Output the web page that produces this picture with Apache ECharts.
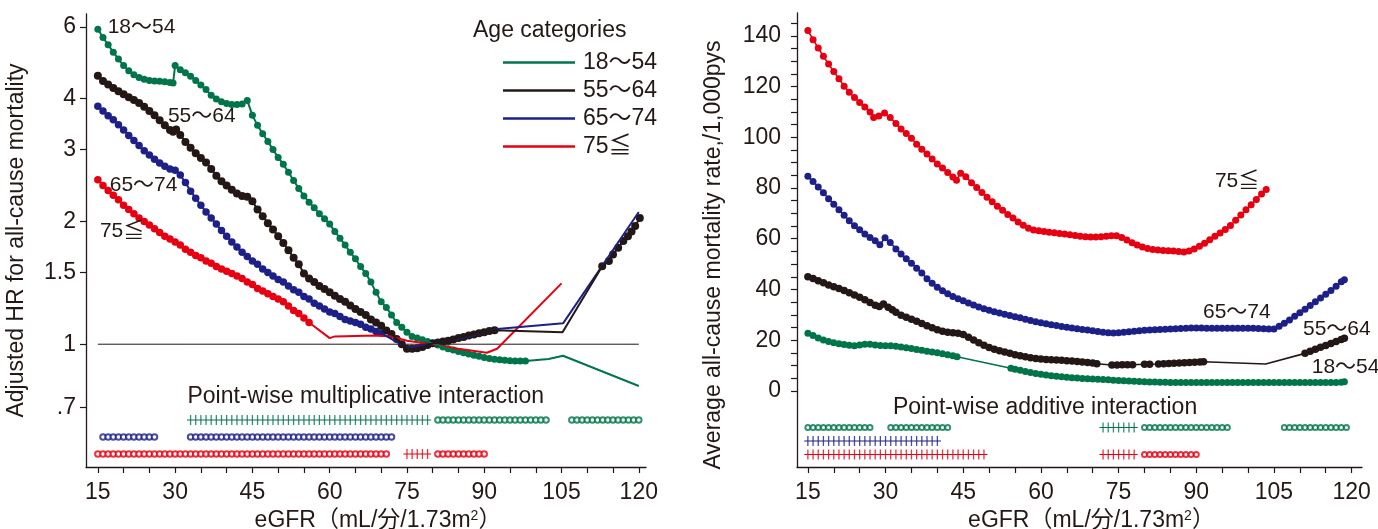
<!DOCTYPE html>
<html><head><meta charset="utf-8">
<script src="https://cdn.jsdelivr.net/npm/echarts@6/dist/echarts.min.js"></script>
<style>html,body{margin:0;padding:0;background:#fff}#c{width:1378px;height:529px}</style>
</head><body><div id="c"></div>
<script>
// ---------------- DATA ----------------
const ageGroups = ['18～54', '55～64', '65～74', '75≦'];
const xTickLabels = [15, 30, 45, 60, 75, 90, 105, 120];
const hrTickLabels = [0.7, 1, 1.5, 2, 3, 4, 6];
const rateTickLabels = [0, 20, 40, 60, 80, 100, 120, 140];

// Left panel: adjusted HR (eGFR, HR)
const hrGreen = [[15,5.92],[16,5.65],[17,5.42],[18,5.2],[19,5.0],[20,4.82],[21,4.68],[22,4.58],[23,4.51],[24,4.46],[25,4.43],[26,4.42],[27,4.41],[28,4.4],[29,4.38],[29.6,4.37],[30,4.82],[31,4.71],[32,4.63],[33,4.54],[34,4.43],[35,4.32],[36,4.21],[37,4.08],[38,3.99],[39,3.93],[40,3.89],[41,3.87],[42,3.87],[43,3.88],[44,3.96],[45,3.64],[46,3.44],[47,3.28],[48,3.14],[49,3.0],[50,2.87],[51,2.76],[52,2.64],[53,2.52],[54,2.41],[55,2.31],[56,2.23],[57,2.16],[58,2.09],[59,2.03],[60,1.97],[61,1.89],[62,1.82],[63,1.75],[64,1.68],[65,1.62],[66,1.55],[67,1.49],[68,1.42],[69,1.34],[70,1.27],[71,1.23],[72,1.18],[73,1.13],[74,1.1],[75,1.07],[76,1.045],[77,1.035],[78,1.025],[79,1.015],[80,1.005],[81,0.995],[82,0.985],[83,0.975],[84,0.968],[85,0.96],[86,0.953],[87,0.946],[88,0.94],[89,0.934],[90,0.928],[91,0.923],[92,0.919],[93,0.916],[94,0.913],[95,0.911],[96,0.91],[97,0.909],[98,0.909],[102.5,0.92],[105.3,0.937],[120,0.79]];
const hrGreenDots = [[15,98]];
const hrBlack = [[15,4.55],[16,4.42],[17,4.33],[18,4.25],[19,4.17],[20,4.1],[21,4.03],[22,3.97],[23,3.9],[24,3.82],[25,3.73],[26,3.64],[27,3.54],[28,3.44],[29,3.35],[29.6,3.32],[30.2,3.36],[31,3.26],[32,3.13],[33,3.03],[34,2.94],[35,2.86],[36,2.79],[37,2.69],[38,2.59],[39,2.51],[40,2.45],[41,2.39],[42,2.34],[43,2.31],[44,2.3],[45,2.24],[46,2.14],[47,2.06],[48,1.98],[49,1.91],[50,1.84],[51,1.77],[52,1.7],[53,1.63],[54,1.57],[55,1.49],[56,1.45],[57,1.42],[58,1.39],[59,1.365],[60,1.34],[61,1.315],[62,1.29],[63,1.27],[64,1.245],[65,1.22],[66,1.2],[67,1.18],[68,1.15],[69,1.13],[70,1.11],[71,1.08],[72,1.06],[73,1.03],[74,1.0],[75,0.975],[76,0.975],[77,0.978],[78,0.985],[79,0.995],[80,1.005],[81,1.01],[82,1.015],[83,1.02],[84,1.027],[85,1.035],[86,1.042],[87,1.05],[88,1.057],[89,1.064],[90,1.07],[91,1.077],[92,1.082],[105.2,1.07],[112.9,1.553],[114.2,1.6],[115,1.66],[116,1.725],[117,1.79],[117.9,1.84],[118.6,1.89],[119.3,1.95],[120.2,2.04]];
const hrBlackDots = [[15,92],[112.9,120.2]];
const hrBlue = [[15,3.83],[16,3.73],[17,3.63],[18,3.55],[19,3.45],[20,3.35],[21,3.25],[22,3.16],[23,3.07],[24,2.98],[25,2.91],[26,2.84],[27,2.78],[28,2.73],[29,2.69],[30,2.67],[31,2.6],[32,2.49],[33,2.37],[34,2.28],[35,2.19],[36,2.11],[37,2.04],[38,1.97],[39,1.9],[40,1.84],[41,1.78],[42,1.73],[43,1.68],[44,1.64],[45,1.6],[46,1.57],[47,1.53],[48,1.5],[49,1.47],[50,1.44],[51,1.42],[52,1.39],[53,1.36],[54,1.34],[55,1.31],[56,1.29],[57,1.26],[58,1.24],[59,1.22],[60,1.2],[61,1.19],[62,1.17],[63,1.15],[64,1.14],[65,1.13],[66,1.12],[67,1.1],[68,1.09],[69,1.075],[70,1.065],[75,0.98],[80,1.005],[85,1.03],[92.5,1.09],[105.3,1.125],[120,2.11]];
const hrBlueDots = [[15,70]];
const hrRed = [[15,2.53],[16,2.45],[17,2.38],[18,2.32],[19,2.26],[20,2.19],[21,2.14],[22,2.09],[23,2.04],[24,2.0],[25,1.96],[26,1.92],[27,1.88],[28,1.84],[29,1.81],[30,1.78],[31,1.75],[32,1.71],[33,1.68],[34,1.65],[35,1.63],[36,1.6],[37,1.58],[38,1.55],[39,1.53],[40,1.51],[41,1.49],[42,1.47],[43,1.45],[44,1.42],[45,1.4],[46,1.37],[47,1.35],[48,1.33],[49,1.31],[50,1.29],[51,1.27],[52,1.24],[53,1.21],[54,1.19],[55,1.16],[56,1.13],[60,1.035],[61,1.045],[69,1.05],[72,1.045],[75,1.02],[80,1.0],[85,0.975],[90.5,0.953],[92.5,0.975],[105,1.41]];
const hrRedDots = [[15,56]];
const hrReference = [[15,1],[120,1]];

// Left panel: point-wise multiplicative interaction (eGFR positions)
const multGreenPlus = [[33,34,35,36,37,38,39,40,41,42,43,44,45,46,47,48,49,50,51,52,53,54,55,56,57,58,59,60,61,62,63,64,65,66,67,68,69,70,71,72,73,74,75,76,77,78,79]];
const multGreenO = [81,82,83,84,85,86,87,88,89,90,91,92,93,94,95,96,97,98,99,100,101,102,107,108,109,110,111,112,113,114,115,116,117,118,119,120];
const multBlueO = [16,17,18,19,20,21,22,23,24,25,26,33,34,35,36,37,38,39,40,41,42,43,44,45,46,47,48,49,50,51,52,53,54,55,56,57,58,59,60,61,62,63,64,65,66,67,68,69,70,71,72];
const multRedO = [15,16,17,18,19,20,21,22,23,24,25,26,27,28,29,30,31,32,33,34,35,36,37,38,39,40,41,42,43,44,45,46,47,48,49,50,51,52,53,54,55,56,57,58,59,60,61,62,63,64,65,66,67,68,69,70,71,81,82,83,84,85,86,87,88,89,90];
const multRedPlus = [[75,76,77,78,79]];

// Right panel: average all-cause mortality rate /1,000 person-years
const rateGreen = [[15,22.7],[16,21.8],[17,20.9],[18,20.1],[19,19.5],[20,19.0],[21,18.6],[22,18.3],[23,18.0],[24,17.8],[25,18.1],[26,18.4],[27,18.4],[28,18.1],[29,17.9],[30,17.8],[31,17.8],[32,17.6],[33,17.3],[34,17.0],[35,16.7],[36,16.3],[37,16.0],[38,15.6],[39,15.3],[40,15.0],[41,14.7],[42,14.3],[43,13.9],[43.8,13.5],[54.2,8.9],[55,8.5],[56,8.1],[57,7.7],[58,7.3],[59,6.9],[60,6.6],[61,6.3],[62,6.0],[63,5.8],[64,5.6],[65,5.4],[66,5.2],[67,5.1],[68,4.9],[69,4.8],[70,4.7],[71,4.6],[72,4.5],[73,4.4],[74,4.2],[75,4.1],[76,4.0],[77,3.9],[78,3.8],[79,3.7],[80,3.6],[81,3.5],[82,3.5],[83,3.4],[84,3.4],[85,3.35],[86,3.3],[87,3.3],[88,3.3],[89,3.3],[90,3.3],[91,3.3],[92,3.3],[93,3.3],[94,3.3],[95,3.3],[96,3.3],[97,3.3],[98,3.3],[99,3.3],[100,3.3],[101,3.3],[102,3.3],[103,3.3],[104,3.3],[105,3.3],[106,3.3],[107,3.3],[108,3.3],[109,3.3],[110,3.3],[111,3.3],[112,3.3],[113,3.3],[114,3.3],[115,3.3],[116,3.3],[117,3.35],[118,3.45],[118.6,3.6]];
const rateGreenDots = [[15,43.8],[54.2,118.6]];
const rateBlack = [[15,45.0],[16,44.3],[17,43.4],[18,42.6],[19,41.8],[20,41.1],[21,40.4],[22,39.6],[23,38.7],[24,37.8],[25,36.9],[26,35.9],[27,34.9],[28,33.8],[28.8,33.3],[29.6,34.3],[30.5,33.0],[31.3,32.0],[32,31.0],[33,29.8],[34,29.0],[35,28.3],[36,27.5],[37,26.6],[38,25.7],[39,24.9],[40,24.1],[41,23.5],[42,23.1],[43,22.9],[44,22.7],[45,22.2],[46,21.2],[47,20.1],[48,19.0],[49,18.0],[50,17.1],[51,16.4],[52,15.8],[53,15.3],[54,14.8],[55,14.3],[56,13.9],[57,13.5],[58,13.1],[59,12.8],[60,12.6],[61,12.4],[62,12.3],[63,12.2],[64,12.1],[65,11.9],[66,11.8],[67,11.6],[68,11.4],[69,11.2],[70,11.0],[70.8,10.7],[73.7,10.2],[74.7,10.2],[75.7,10.3],[76.7,10.3],[77.7,10.3],[80,10.5],[81,10.5],[82.7,10.6],[83.7,10.7],[84.7,10.8],[85.7,10.9],[86.7,11.0],[87.7,11.1],[88.7,11.2],[89.7,11.3],[90.7,11.4],[91.4,11.5],[103.4,10.6],[111,14.8],[112,15.6],[113,16.4],[114,17.2],[115,17.9],[116,18.7],[117,19.5],[118,20.3],[118.6,20.8]];
const rateBlackDots = [[15,70.8],[73.7,77.7],[80,81],[82.7,91.4],[111,118.6]];
const rateBlue = [[15,84.6],[16,82.6],[17,80.4],[18,78.1],[19,75.8],[20,73.6],[21,71.4],[22,69.3],[23,67.1],[24,65.1],[25,63.5],[26,61.9],[27,60.5],[28,59.2],[28.9,57.6],[29.9,60.4],[30.9,58.5],[32,56.0],[33,54.0],[34,52.1],[35,50.3],[36,48.4],[37,46.5],[38,44.2],[39,42.4],[40,40.9],[41,39.5],[42,38.3],[43,37.2],[44,36.3],[45,35.5],[46,34.7],[47,33.9],[48,33.1],[49,32.4],[50,31.8],[51,31.2],[52,30.7],[53,30.2],[54,29.7],[55,29.2],[56,28.8],[57,28.3],[58,27.8],[59,27.3],[60,26.9],[61,26.5],[62,26.1],[63,25.8],[64,25.4],[65,25.1],[66,24.8],[67,24.5],[68,24.2],[69,24.0],[70,23.7],[71,23.4],[72,23.1],[73,22.9],[74,22.8],[75,22.9],[76,23.1],[77,23.3],[78,23.5],[79,23.7],[80,23.9],[81,24.0],[82,24.1],[83,24.2],[84,24.3],[85,24.4],[86,24.5],[87,24.6],[88,24.7],[89,24.8],[90,24.8],[91,24.8],[92,24.7],[93,24.7],[94,24.7],[95,24.7],[96,24.7],[97,24.7],[98,24.7],[99,24.7],[100,24.7],[101,24.7],[102,24.6],[103,24.5],[104,24.4],[105,24.4],[106,25.5],[107,26.7],[108,28.0],[109,29.4],[110,30.8],[111,32.2],[112,33.7],[113,35.2],[114,36.6],[115,38.1],[116,39.6],[117,41.3],[118,43.0],[118.6,43.8]];
const rateBlueDots = [[15,118.6]];
const rateRed = [[15,142.1],[16,138.5],[17,135.2],[18,131.9],[19,128.9],[20,125.9],[21,123.1],[22,120.1],[23,117.8],[24,115.7],[25,113.7],[26,111.9],[27,110.0],[27.7,107.8],[28.7,108.4],[29.8,109.6],[30.9,107.8],[32,105.4],[33,103.3],[34,101.5],[35,99.6],[36,97.3],[37,95.3],[38,93.4],[39,91.4],[40,89.5],[41,87.9],[42,86.1],[43,84.3],[43.7,83.1],[44.5,85.8],[45.5,84.4],[46.6,82.1],[47.6,80.2],[48.6,78.2],[49.6,76.4],[50.6,74.6],[51.6,72.8],[52.6,71.2],[53.6,69.6],[54.6,68.2],[55.6,66.6],[56.6,65.3],[57.6,64.1],[58.6,63.4],[59.6,63.1],[60.6,62.9],[61.6,62.6],[62.6,62.4],[63.6,62.1],[64.6,61.9],[65.6,61.6],[66.6,61.3],[67.6,61.0],[68.6,60.8],[69.6,60.7],[70.6,60.7],[71.6,60.8],[72.6,61.0],[73.6,61.2],[74.6,61.2],[75.6,60.5],[76.6,59.5],[77.6,58.4],[78.6,57.5],[79.6,56.7],[80.6,56.1],[81.6,55.8],[82.6,55.6],[83.6,55.4],[84.6,55.3],[85.6,55.2],[86.6,55.0],[87.6,54.8],[88.6,55.2],[89.6,56.0],[90.6,57.0],[91.6,58.2],[92.6,59.6],[93.6,61.0],[94.6,62.3],[95.6,63.6],[96.6,65.2],[97.6,67.3],[98.6,69.4],[99.6,71.4],[100.6,73.4],[101.6,75.5],[102.6,77.6],[103.5,79.4]];
const rateRedDots = [[15,103.5]];

// Right panel: point-wise additive interaction (eGFR positions)
const addGreenO = [15,16,17,18,19,20,21,22,23,24,25,26,27,31,32,33,34,35,36,37,38,39,40,41,42,80,81,82,83,84,85,86,87,88,89,90,91,92,93,94,95,96,107,108,109,110,111,112,113,114,115,116,117,118,119];
const addGreenPlus = [[72,73,74,75,76,77,78]];
const addBluePlus = [[15,16,17,18,19,20,21,22,23,24,25,26,27,28,29,30,31,32,33,34,35,36,37,38,39,40]];
const addRedPlus = [[15,16,17,18,19,20,21,22,23,24,25,26,27,28,29,30,31,32,33,34,35,36,37,38,39,40,41,42,43,44,45,46,47,48,49],[72,73,74,75,76,77,78]];
const addRedO = [80,81,82,83,84,85,86,87,88,89,90];

// ---------------- STYLE ----------------
const TXT = '#231815';
const FONT = '"Liberation Sans", Arial, "Noto Sans CJK JP", sans-serif';
const C = { green: '#00754a', black: '#231815', blue: '#1d2088', red: '#e60012' };
const ROW = { green: 3, blue: 2, red: 1 };

function curve(pts, ranges, color, name, xi, yi, size, lw) {
  return [
    { type: 'line', name: name, xAxisIndex: xi, yAxisIndex: yi, data: pts, symbol: 'none',
      lineStyle: { color: color, width: lw }, itemStyle: { color: color }, silent: true, animation: false },
    { type: 'scatter', name: name + ' •', xAxisIndex: xi, yAxisIndex: yi,
      data: pts.filter(p => ranges.some(r => p[0] >= r[0] - 1e-9 && p[0] <= r[1] + 1e-9)),
      symbol: 'circle', symbolSize: size, itemStyle: { color: color, opacity: 1 }, silent: true, animation: false }
  ];
}
function oRow(xs, row, color, xi, yi, size) {
  return { type: 'scatter', xAxisIndex: xi, yAxisIndex: yi, data: xs.map(x => [x, row]),
    symbol: 'emptyCircle', symbolSize: size, itemStyle: { color: color, borderWidth: 1 },
    silent: true, animation: false };
}
function plusRuns(runs, row, color, xi, yi) {
  const out = [];
  runs.forEach(xs => {
    out.push({ type: 'line', xAxisIndex: xi, yAxisIndex: yi,
      data: [[xs[0] - 0.7, row], [xs[xs.length - 1] + 0.7, row]], symbol: 'none',
      lineStyle: { color: color, width: 1.2 }, silent: true, animation: false });
    out.push({ type: 'scatter', xAxisIndex: xi, yAxisIndex: yi, data: xs.map(x => [x, row]),
      symbol: 'rect', symbolSize: [1.3, 10], itemStyle: { color: color }, silent: true, animation: false });
  });
  return out;
}
function note(text, coord, align, size) {
  return { coord: coord, value: text, symbol: 'circle', symbolSize: 0,
    label: { show: true, formatter: text, position: 'inside', align: align, verticalAlign: 'middle',
      color: TXT, fontSize: size, fontFamily: FONT } };
}
function range(a, b, s) { const r = []; for (let v = a; v <= b + 1e-9; v += s) r.push(v); return r; }

const axisLineStyle = { show: true, onZero: false, lineStyle: { color: TXT, width: 1.3 } };
const tickStyle = { lineStyle: { color: TXT, width: 1.2 } };
const xName = '{a|eGFR（mL/分/1.73m}{s|2}{a|）}';
const xNameStyle = { padding: [0, 0, 0, 24], rich: { a: { fontSize: 23, color: TXT, fontFamily: FONT }, s: { fontSize: 14, color: TXT, fontFamily: FONT, verticalAlign: 'top', padding: [0, 0, 9, 0] } } };

function xAxis(gi, min, max) {
  return { gridIndex: gi, type: 'value', min: min, max: max, axisLine: axisLineStyle,
    axisTick: Object.assign({ show: true, length: 6, customValues: range(15, 120, 5) }, tickStyle),
    axisLabel: { customValues: xTickLabels, fontSize: 23, color: TXT, fontFamily: FONT, margin: 14 },
    splitLine: { show: false }, name: xName, nameLocation: 'middle', nameGap: 38, nameTextStyle: xNameStyle };
}

const series = [];
// left panel
series.push({ type: 'line', name: 'ref', xAxisIndex: 0, yAxisIndex: 0, data: hrReference, symbol: 'none',
  lineStyle: { color: TXT, width: 1 }, silent: true, animation: false,
  markPoint: { silent: true, animation: false, data: [
    note('18～54', [16.9, 6.0], 'left', 21), note('55～64', [28.6, 3.63], 'left', 21),
    note('65～74', [17.3, 2.46], 'left', 21), note('75≦', [15.4, 1.89], 'left', 21)] } });
series.push(...curve(hrRed, hrRedDots, C.red, ageGroups[3], 0, 0, 7.5, 2));
series.push(...curve(hrBlue, hrBlueDots, C.blue, ageGroups[2], 0, 0, 7.5, 2));
series.push(...curve(hrGreen, hrGreenDots, C.green, ageGroups[0], 0, 0, 7, 2));
series.push(...curve(hrBlack, hrBlackDots, C.black, ageGroups[1], 0, 0, 8, 2));
series.push(...plusRuns(multGreenPlus, ROW.green, C.green, 0, 1));
const multTitle = oRow(multGreenO, ROW.green, C.green, 0, 1, 5.5);
multTitle.markPoint = { silent: true, animation: false, data: [note('Point-wise multiplicative interaction', [67, 4.35], 'center', 23)] };
series.push(multTitle);
series.push(oRow(multBlueO, ROW.blue, C.blue, 0, 1, 5.5));
series.push(oRow(multRedO, ROW.red, C.red, 0, 1, 5.5));
series.push(...plusRuns(multRedPlus, ROW.red, C.red, 0, 1));
// right panel
const rg = curve(rateGreen, rateGreenDots, C.green, 'R ' + ageGroups[0], 1, 2, 7, 1.6);
const rk = curve(rateBlack, rateBlackDots, C.black, 'R ' + ageGroups[1], 1, 2, 7.5, 1.6);
const rb = curve(rateBlue, rateBlueDots, C.blue, 'R ' + ageGroups[2], 1, 2, 7, 1.6);
const rr = curve(rateRed, rateRedDots, C.red, 'R ' + ageGroups[3], 1, 2, 7, 1.6);
rr[0].markPoint = { silent: true, animation: false, data: [
  note('75≦', [93.6, 82.7], 'left', 21), note('65～74', [91.3, 31.1], 'left', 21),
  note('55～64', [110.6, 24.4], 'left', 21), note('18～54', [112.3, 9.4], 'left', 21)] };
series.push(...rr, ...rb, ...rg, ...rk);
const addTitle = oRow(addGreenO, ROW.green, C.green, 1, 3, 5);
addTitle.markPoint = { silent: true, animation: false, data: [note('Point-wise additive interaction', [60.8, 4.44], 'center', 23)] };
series.push(addTitle);
series.push(...plusRuns(addGreenPlus, ROW.green, C.green, 1, 3));
series.push(...plusRuns(addBluePlus, ROW.blue, C.blue, 1, 3));
series.push(...plusRuns(addRedPlus, ROW.red, C.red, 1, 3));
series.push(oRow(addRedO, ROW.red, C.red, 1, 3, 5));

const option = {
  backgroundColor: '#fff',
  animation: false,
  textStyle: { fontFamily: FONT, color: TXT },
  title: { text: 'Age categories', left: 473, top: 19, padding: 0,
    textStyle: { fontSize: 23, fontWeight: 'normal', color: TXT, fontFamily: FONT } },
  legend: { orient: 'vertical', left: 503, top: 51, padding: 0, itemWidth: 72, itemHeight: 2.5, itemGap: 5,
    icon: 'rect', selectedMode: false, data: ageGroups,
    textStyle: { fontSize: 23, lineHeight: 22, color: TXT, fontFamily: FONT, padding: [0, 0, 0, 3] } },
  grid: [
    { left: 86, right: 732, top: 14, bottom: 62, containLabel: false, outerBoundsMode: 'none' },
    { left: 797, right: 16, top: 13, bottom: 62, containLabel: false, outerBoundsMode: 'none' }
  ],
  xAxis: [ xAxis(0, 12.7, 121.4), xAxis(1, 12.9, 122) ],
  yAxis: [
    { gridIndex: 0, type: 'log', min: 0.5, max: 6.45, axisLine: axisLineStyle,
      axisTick: Object.assign({ show: true, length: 6, customValues: hrTickLabels }, tickStyle),
      axisLabel: { customValues: hrTickLabels, fontSize: 23, color: TXT, fontFamily: FONT, margin: 10,
        formatter: v => { const r = Math.round(v * 10) / 10; return r < 1 ? String(r).replace(/^0/, '') : String(r); } },
      splitLine: { show: false }, minorTick: { show: false },
      name: 'Adjusted HR for all-cause mortality', nameLocation: 'middle', nameGap: 58,
      nameTextStyle: { fontSize: 23, color: TXT, fontFamily: FONT } },
    { gridIndex: 0, type: 'value', min: 0.235, max: 26.88, show: false, splitLine: { show: false } },
    { gridIndex: 1, type: 'value', min: -30, max: 149, axisLine: axisLineStyle,
      axisTick: Object.assign({ show: true, length: 6, customValues: range(0, 145, 5) }, tickStyle),
      axisLabel: { customValues: rateTickLabels, fontSize: 23, color: TXT, fontFamily: FONT, margin: 16 },
      splitLine: { show: false },
      name: 'Average all-cause mortality rate,/1,000pys', nameLocation: 'middle', nameGap: 72,
      nameTextStyle: { fontSize: 23, color: TXT, fontFamily: FONT, padding: [0, 30, 0, 0] } },
    { gridIndex: 1, type: 'value', min: 0.074, max: 33.7, show: false, splitLine: { show: false } }
  ],
  series: series
};
const chart = echarts.init(document.getElementById('c'), null, { renderer: 'canvas' });
chart.setOption(option);
</script>
</body></html>
